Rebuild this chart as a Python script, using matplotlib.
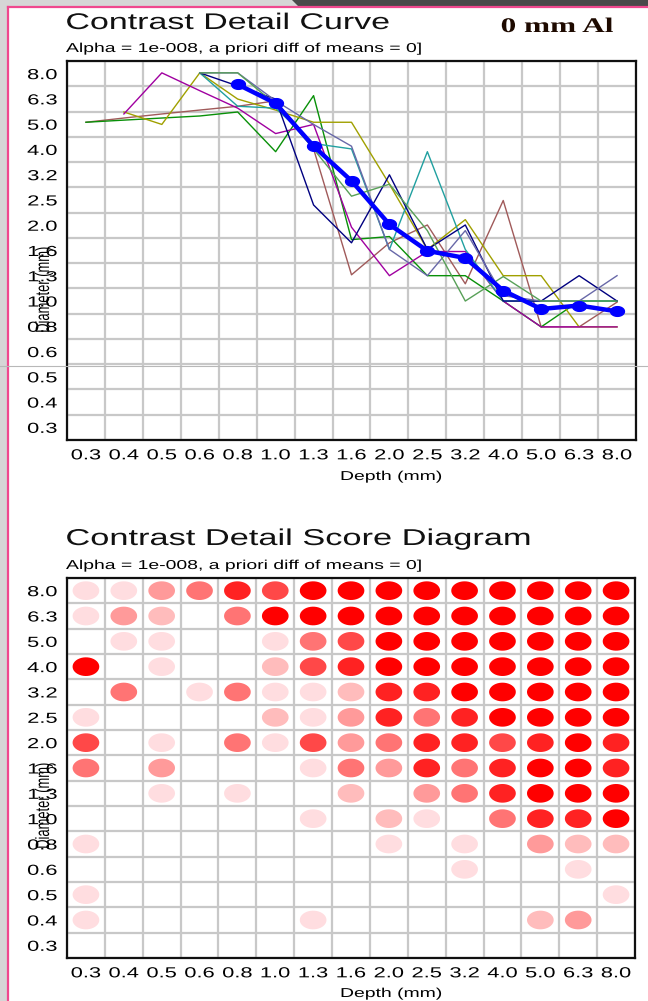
import numpy as np
import matplotlib
matplotlib.use("Agg")
import matplotlib.pyplot as plt
import matplotlib.patheffects as pe
from matplotlib.path import Path
from matplotlib.transforms import Affine2D
from matplotlib.lines import Line2D
from matplotlib.patches import Rectangle, Polygon
from matplotlib.ticker import NullFormatter

W, H = 648, 1001

# category labels (both axes use the same R10 series)
depth_labels = ["0.3", "0.4", "0.5", "0.6", "0.8", "1.0", "1.3", "1.6",
                "2.0", "2.5", "3.2", "4.0", "5.0", "6.3", "8.0"]
diam_labels = ["8.0", "6.3", "5.0", "4.0", "3.2", "2.5", "2.0", "1.6",
               "1.3", "1.0", "0.8", "0.6", "0.5", "0.4", "0.3"]

nan = np.nan
# threshold diameter (mm) per depth column, one list per reader
mean_curve = [nan, nan, nan, nan, 7.2, 6.06, 4.1, 2.99, 2.01, 1.58, 1.48, 1.10, 0.93, 0.96, 0.91]
reader_brown = [5.1, 5.3, 5.5, 5.7, 5.9, 6.2, 4.0, 1.27, 1.7, 2.0, 1.17, 2.5, 0.79, 0.79, 0.99]
reader_green = [5.1, 5.2, 5.3, 5.4, 5.6, 3.9, 6.5, 1.75, 1.8, 1.26, 1.26, 1.0, 0.79, 1.0, 1.0]
reader_olive = [nan, 5.6, 5.0, 8.0, 6.3, 5.7, 5.1, 5.1, 2.9, 1.6, 2.1, 1.26, 1.26, 0.79, 0.79]
reader_purple = [nan, 5.5, 8.0, 6.8, 5.8, 4.6, 5.0, 1.96, 1.26, 1.57, 1.57, 1.0, 0.79, 0.79, 0.79]
reader_teal = [nan, nan, nan, 8.0, 5.9, 5.8, 4.2, 4.0, 1.6, 3.9, 1.6, 1.0, 1.0, 1.0, 1.0]
reader_navy = [nan, nan, nan, 8.0, 7.1, 6.3, 2.4, 1.7, 3.16, 1.6, 2.0, 1.0, 1.0, 1.26, 1.0]
reader_slate = [nan, nan, nan, 8.0, 8.0, 6.2, 5.0, 4.1, 1.6, 1.26, 1.9, 1.05, 1.0, 1.0, 1.26]
reader_sage = [nan, nan, nan, 8.0, 8.0, 6.0, 4.0, 2.6, 2.9, 1.9, 1.0, 1.25, 1.0, 1.0, 1.0]

readers = [(reader_brown, "#a05a5a"), (reader_green, "#089008"), (reader_olive, "#a0a000"),
           (reader_purple, "#a000a0"), (reader_teal, "#20a0a0"), (reader_navy, "#000080"),
           (reader_slate, "#6868a8"), (reader_sage, "#58a058")]

# score diagram: rows = diameter (8.0 -> 0.3), cols = depth (0.3 -> 8.0), 0 = no dot
score = np.array([
    [1, 1, 3, 4, 6, 5, 7, 7, 7, 7, 7, 7, 7, 7, 7],
    [1, 3, 2, 0, 4, 7, 7, 7, 7, 7, 7, 7, 7, 7, 7],
    [0, 1, 1, 0, 0, 1, 4, 5, 7, 7, 7, 7, 7, 7, 7],
    [7, 0, 1, 0, 0, 2, 5, 6, 7, 7, 7, 7, 7, 7, 7],
    [0, 4, 0, 1, 4, 1, 1, 2, 6, 6, 7, 7, 7, 7, 7],
    [1, 0, 0, 0, 0, 2, 1, 3, 6, 4, 6, 7, 7, 7, 7],
    [5, 0, 1, 0, 4, 1, 5, 3, 4, 6, 6, 5, 6, 7, 6],
    [4, 0, 3, 0, 0, 0, 1, 4, 3, 6, 4, 6, 7, 7, 6],
    [0, 0, 1, 0, 1, 0, 0, 2, 0, 3, 4, 6, 7, 7, 7],
    [0, 0, 0, 0, 0, 0, 1, 0, 2, 1, 0, 4, 6, 6, 7],
    [1, 0, 0, 0, 0, 0, 0, 0, 1, 0, 1, 0, 3, 2, 2],
    [0, 0, 0, 0, 0, 0, 0, 0, 0, 0, 1, 0, 0, 1, 0],
    [1, 0, 0, 0, 0, 0, 0, 0, 0, 0, 0, 0, 0, 0, 1],
    [1, 0, 0, 0, 0, 0, 1, 0, 0, 0, 0, 0, 2, 3, 0],
    [0, 0, 0, 0, 0, 0, 0, 0, 0, 0, 0, 0, 0, 0, 0],
])
level_colors = {1: "#ffdde0", 2: "#ffbcbc", 3: "#ff9a9a", 4: "#ff7474",
                5: "#ff4848", 6: "#ff2222", 7: "#ff0000"}


class Stretch(pe.AbstractPathEffect):
    """Widen glyph outlines (the source screenshot is stretched sideways)."""
    def __init__(self, sx=1.5, sy=1.0, anchor="center"):
        super().__init__()
        self.sx, self.sy, self.anchor = sx, sy, anchor

    def draw_path(self, renderer, gc, tpath, affine, rgbFace=None):
        v = tpath.vertices
        if tpath.codes is not None:
            v = v[tpath.codes != Path.CLOSEPOLY]
        if len(v) == 0:
            return
        lo, hi = v[:, 0].min(), v[:, 0].max()
        x0 = {"left": lo, "right": hi}.get(self.anchor, 0.5 * (lo + hi))
        t = Affine2D().translate(-x0, 0).scale(self.sx, self.sy).translate(x0, 0) + affine
        renderer.draw_path(gc, tpath, t, rgbFace)


def ellipse_marker(ratio):
    t = np.linspace(0, 2 * np.pi, 40)
    return Path(np.column_stack([np.cos(t), ratio * np.sin(t)]), closed=True)


SANS = "Liberation Sans"
dot = ellipse_marker(0.7)

fig = plt.figure(figsize=(W / 100, H / 100), dpi=100, facecolor="white")


def ftext(x, y, s, **kw):
    return fig.text(x / W, 1 - y / H, s, **kw)


def style_axes(ax):
    for sp in ax.spines.values():
        sp.set_linewidth(1.6)
        sp.set_color("#101010")
    ax.set_axisbelow(True)
    ax.grid(which="minor", color="#c8c8c8", lw=1.6)
    ax.grid(which="major", visible=False)
    ax.tick_params(which="both", length=0)
    ax.tick_params(axis="x", pad=6)
    ax.tick_params(axis="y", pad=7)
    for lab in ax.get_xticklabels():
        lab.set_fontfamily(SANS); lab.set_fontsize(10.5)
        lab.set_path_effects([Stretch(1.5, anchor="center")])
    for lab in ax.get_yticklabels():
        lab.set_fontfamily(SANS); lab.set_fontsize(10.5)
        lab.set_path_effects([Stretch(1.5, anchor="right")])


# ---- top: contrast detail curve (log axes, categories are 0.1-decade steps)
ax1 = fig.add_axes([67 / W, 1 - 440 / H, 569 / W, 379 / H])
ax1.set_xscale("log"); ax1.set_yscale("log")
xpos = 10 ** (-0.5 + 0.1 * np.arange(15))
ypos = 10 ** (0.9 - 0.1 * np.arange(15))
edges = 10 ** (-0.55 + 0.1 * np.arange(16))
ax1.set_xlim(edges[0], edges[-1]); ax1.set_ylim(edges[0], edges[-1])
ax1.set_xticks(xpos, depth_labels)
ax1.set_yticks(ypos, diam_labels)
ax1.set_xticks(edges, minor=True); ax1.set_yticks(edges, minor=True)
ax1.xaxis.set_minor_formatter(NullFormatter()); ax1.yaxis.set_minor_formatter(NullFormatter())
for vals, col in readers:
    ax1.plot(xpos, vals, color=col, lw=1.0)
ax1.plot(xpos, mean_curve, color="#0000ff", lw=3.2, marker=dot, ms=10, mec="#0000ff")
style_axes(ax1)

# ---- bottom: score diagram
ax2 = fig.add_axes([67 / W, 1 - 958 / H, 568 / W, 380 / H])
rows, cols = np.nonzero(score)
ax2.scatter(cols, rows, s=370, marker=dot, linewidths=0,
            c=[level_colors[v] for v in score[rows, cols]], zorder=3)
ax2.set_xlim(-0.5, 14.5); ax2.set_ylim(14.5, -0.5)
ax2.set_xticks(np.arange(15), depth_labels)
ax2.set_yticks(np.arange(15), diam_labels)
ax2.set_xticks(np.arange(16) - 0.5, minor=True); ax2.set_yticks(np.arange(16) - 0.5, minor=True)
style_axes(ax2)

# ---- texts
title_fx = [Stretch(1.5, anchor="left")]
ftext(66, 29, "Contrast Detail Curve", fontsize=16.3, family=SANS, color="#111111",
      va="baseline", path_effects=title_fx)
ftext(66, 52, "Alpha = 1e-008, a priori diff of means = 0]", fontsize=9.3, family=SANS,
      va="baseline", path_effects=title_fx)
ftext(501, 32, "0 mm Al", fontsize=15, family="Liberation Serif", weight="bold",
      color="#1e0a00", va="baseline", path_effects=title_fx)
ftext(66, 545, "Contrast Detail Score Diagram", fontsize=16.5, family=SANS, color="#111111",
      va="baseline", path_effects=title_fx)
ftext(66, 569, "Alpha = 1e-008, a priori diff of means = 0]", fontsize=9.3, family=SANS,
      va="baseline", path_effects=title_fx)
for yb in (480, 997):
    ftext(391, yb, "Depth (mm)", fontsize=9.3, family=SANS, ha="center", va="baseline",
          path_effects=[Stretch(1.5)])
# the source draws the axis title right over the tick labels
for yc in (290, 806):
    ftext(46, yc, "Diameter (mm)", fontsize=9.3, family=SANS, rotation=90, ha="center",
          va="center", path_effects=[Stretch(1.0, 1.5)])

# ---- window chrome around the screenshot
fig.add_artist(Rectangle((0, 0), 7 / W, 1, transform=fig.transFigure, color="#d6d6d6", lw=0))
fig.add_artist(Rectangle((0, 1 - 6 / H), 1, 6 / H, transform=fig.transFigure, color="#d6d6d6", lw=0))
fig.add_artist(Polygon([(292 / W, 1), (1, 1), (1, 1 - 6 / H), (298 / W, 1 - 6 / H)],
                       transform=fig.transFigure, color="#4a4a4a", lw=0))
fig.add_artist(Line2D([8 / W, 8 / W], [0, 1 - 7 / H], transform=fig.transFigure, color="#f0488e", lw=1.6))
fig.add_artist(Line2D([8 / W, 1], [1 - 7 / H, 1 - 7 / H], transform=fig.transFigure, color="#f0488e", lw=1.6))
fig.add_artist(Line2D([0, 1], [1 - 366 / H, 1 - 366 / H], transform=fig.transFigure, color="#b8b8b8", lw=0.8))

fig.savefig("out.png", dpi=100, facecolor="white")
